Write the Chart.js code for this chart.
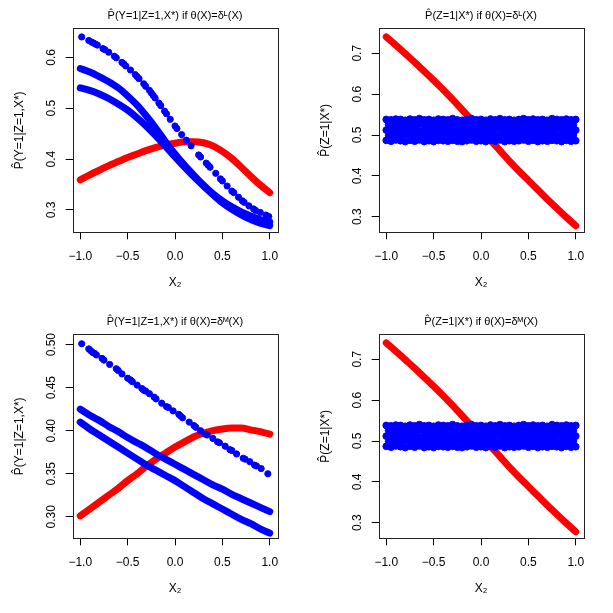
<!DOCTYPE html>
<html>
<head>
<meta charset="utf-8">
<script src="https://cdn.jsdelivr.net/npm/chart.js@4/dist/chart.umd.min.js"></script>
<style>
  body { margin: 0; background: #fff; }
  #wrap { position: relative; width: 613px; height: 613px; }
  canvas { position: absolute; }
</style>
</head>
<body>
<div id="wrap">
  <canvas id="c1" width="307" height="307" style="left:0;top:0"></canvas>
  <canvas id="c2" width="307" height="307" style="left:306px;top:0"></canvas>
  <canvas id="c3" width="307" height="307" style="left:0;top:306px"></canvas>
  <canvas id="c4" width="307" height="307" style="left:306px;top:306px"></canvas>
</div>
<script>
// x positions the smooth curves were read at
const gridX = [-1, -0.9, -0.8, -0.7, -0.6, -0.5, -0.4, -0.3, -0.2, -0.1, 0, 0.1, 0.2, 0.3, 0.4, 0.5, 0.6, 0.7, 0.8, 0.9, 1];
const xTicks = [-1, -0.5, 0, 0.5, 1];

// top left: delta L, P(Y=1|Z=1,X*)
const p1Red = [0.359, 0.369, 0.378, 0.387, 0.395, 0.403, 0.410, 0.417, 0.423, 0.428, 0.431, 0.434, 0.434, 0.432, 0.426, 0.415, 0.401, 0.384, 0.366, 0.349, 0.334];
const p1BlueA = [0.578, 0.571, 0.562, 0.552, 0.540, 0.524, 0.506, 0.484, 0.460, 0.434, 0.410, 0.388, 0.368, 0.349, 0.332, 0.318, 0.306, 0.296, 0.288, 0.281, 0.276];
const p1BlueB = [0.540, 0.535, 0.528, 0.519, 0.508, 0.496, 0.481, 0.464, 0.445, 0.425, 0.404, 0.384, 0.365, 0.347, 0.330, 0.314, 0.301, 0.290, 0.281, 0.274, 0.269];
const p1DotX = [-0.985, -0.91, -0.88, -0.86, -0.84, -0.82, -0.76, -0.74, -0.70, -0.64, -0.62, -0.56, -0.54, -0.52, -0.47, -0.42, -0.40, -0.38, -0.33, -0.31, -0.27, -0.25, -0.23, -0.21, -0.17, -0.15, -0.11, -0.09, -0.05, 0.00, 0.02, 0.07, 0.12, 0.17, 0.25, 0.27, 0.33, 0.35, 0.37, 0.43, 0.48, 0.50, 0.55, 0.60, 0.62, 0.67, 0.71, 0.73, 0.78, 0.83, 0.85, 0.90, 0.96, 0.99];
const p1DotY = [0.640, 0.633, 0.630, 0.628, 0.626, 0.624, 0.617, 0.615, 0.610, 0.602, 0.599, 0.590, 0.587, 0.583, 0.575, 0.566, 0.562, 0.558, 0.548, 0.543, 0.535, 0.530, 0.525, 0.520, 0.510, 0.505, 0.494, 0.489, 0.478, 0.465, 0.460, 0.448, 0.437, 0.426, 0.408, 0.404, 0.392, 0.388, 0.384, 0.372, 0.361, 0.357, 0.347, 0.337, 0.334, 0.325, 0.318, 0.315, 0.308, 0.302, 0.299, 0.295, 0.290, 0.287];

// bottom left: delta M, P(Y=1|Z=1,X*)
const p3Red = [0.301, 0.309, 0.317, 0.325, 0.333, 0.342, 0.350, 0.359, 0.367, 0.374, 0.381, 0.387, 0.393, 0.397, 0.400, 0.402, 0.403, 0.403, 0.401, 0.399, 0.396];
const p3BlueA = [0.425, 0.418, 0.412, 0.405, 0.399, 0.392, 0.386, 0.380, 0.373, 0.367, 0.361, 0.355, 0.349, 0.343, 0.337, 0.332, 0.326, 0.321, 0.316, 0.311, 0.306];
const p3BlueB = [0.410, 0.402, 0.395, 0.388, 0.381, 0.374, 0.367, 0.360, 0.354, 0.348, 0.342, 0.335, 0.328, 0.321, 0.315, 0.309, 0.303, 0.297, 0.292, 0.286, 0.281];
const p3DotX = [-0.985, -0.91, -0.89, -0.87, -0.85, -0.83, -0.77, -0.75, -0.69, -0.62, -0.60, -0.56, -0.50, -0.47, -0.45, -0.40, -0.35, -0.33, -0.31, -0.27, -0.22, -0.20, -0.14, -0.09, -0.07, -0.02, 0.04, 0.06, 0.08, 0.15, 0.20, 0.22, 0.27, 0.32, 0.34, 0.40, 0.45, 0.47, 0.53, 0.58, 0.60, 0.65, 0.72, 0.74, 0.79, 0.84, 0.86, 0.91, 0.98];
const p3DotY = [0.501, 0.495, 0.493, 0.491, 0.490, 0.488, 0.484, 0.482, 0.477, 0.472, 0.470, 0.466, 0.461, 0.459, 0.457, 0.453, 0.449, 0.447, 0.446, 0.443, 0.439, 0.437, 0.432, 0.428, 0.427, 0.423, 0.419, 0.417, 0.415, 0.410, 0.406, 0.404, 0.400, 0.396, 0.395, 0.391, 0.387, 0.386, 0.382, 0.378, 0.377, 0.373, 0.368, 0.367, 0.364, 0.360, 0.359, 0.356, 0.350];

// right column: P(Z=1|X*), same in both rows
const zRed = [0.740, 0.720, 0.699, 0.678, 0.656, 0.634, 0.611, 0.587, 0.562, 0.537, 0.512, 0.487, 0.462, 0.436, 0.412, 0.389, 0.366, 0.343, 0.321, 0.299, 0.278];
const bandX = [-1, -0.95, -0.9, -0.85, -0.8, -0.75, -0.7, -0.65, -0.6, -0.55, -0.5, -0.45, -0.4, -0.35, -0.3, -0.25, -0.2, -0.15, -0.1, -0.05, 0, 0.05, 0.1, 0.15, 0.2, 0.25, 0.3, 0.35, 0.4, 0.45, 0.5, 0.55, 0.6, 0.65, 0.7, 0.75, 0.8, 0.85, 0.9, 0.95, 1];
const bandXs = [-0.975, -0.925, -0.875, -0.825, -0.775, -0.725, -0.675, -0.625, -0.575, -0.525, -0.475, -0.425, -0.375, -0.325, -0.275, -0.225, -0.175, -0.125, -0.075, -0.025, 0.025, 0.075, 0.125, 0.175, 0.225, 0.275, 0.325, 0.375, 0.425, 0.475, 0.525, 0.575, 0.625, 0.675, 0.725, 0.775, 0.825, 0.875, 0.925, 0.975];
const bandRow1 = [0.487, 0.485, 0.488, 0.486, 0.484, 0.487, 0.485, 0.488, 0.484, 0.486, 0.484, 0.487, 0.486, 0.485, 0.487, 0.485, 0.484, 0.486, 0.488, 0.485, 0.486, 0.484, 0.487, 0.485, 0.488, 0.484, 0.486, 0.485, 0.486, 0.488, 0.485, 0.487, 0.484, 0.486, 0.485, 0.487, 0.486, 0.484, 0.487, 0.485, 0.486];
const bandRow2 = [0.498, 0.500, 0.497, 0.499, 0.501, 0.498, 0.500, 0.497, 0.499, 0.501, 0.497, 0.499, 0.501, 0.498, 0.497, 0.500, 0.499, 0.501, 0.497, 0.499, 0.498, 0.501, 0.499, 0.497, 0.500, 0.498, 0.501, 0.497, 0.499, 0.498, 0.501, 0.499, 0.497, 0.500, 0.498, 0.501, 0.497, 0.499, 0.498, 0.500];
const bandRow3 = [0.512, 0.513, 0.511, 0.512, 0.514, 0.511, 0.513, 0.510, 0.512, 0.514, 0.511, 0.512, 0.514, 0.512, 0.510, 0.513, 0.512, 0.514, 0.511, 0.512, 0.512, 0.514, 0.511, 0.512, 0.514, 0.511, 0.512, 0.514, 0.510, 0.512, 0.512, 0.514, 0.511, 0.513, 0.511, 0.512, 0.514, 0.512, 0.512, 0.511, 0.512];
const bandRow4 = [0.526, 0.524, 0.527, 0.525, 0.523, 0.526, 0.525, 0.527, 0.524, 0.526, 0.523, 0.526, 0.525, 0.524, 0.527, 0.525, 0.523, 0.526, 0.527, 0.524, 0.525, 0.523, 0.526, 0.525, 0.527, 0.524, 0.526, 0.523, 0.525, 0.527, 0.524, 0.526, 0.524, 0.526, 0.523, 0.527, 0.525, 0.524, 0.526, 0.525];
const bandRow5 = [0.538, 0.537, 0.539, 0.538, 0.536, 0.539, 0.537, 0.540, 0.537, 0.538, 0.536, 0.539, 0.538, 0.537, 0.540, 0.537, 0.536, 0.538, 0.540, 0.537, 0.538, 0.536, 0.539, 0.537, 0.540, 0.537, 0.538, 0.536, 0.538, 0.540, 0.537, 0.539, 0.537, 0.538, 0.536, 0.540, 0.538, 0.537, 0.539, 0.537, 0.538];

const RED = '#ff0000', BLUE = '#0000ff';
Chart.defaults.font.family = '"Liberation Sans", Arial, Helvetica, sans-serif';
Chart.defaults.color = '#000';

const pts = (xs, ys) => xs.map((x, i) => ({ x: x, y: ys[i] }));
const fmt = (v, d) => (v < 0 ? '\u2212' : '') + Math.abs(v).toFixed(d);

function curve(ys, color) {
  return { data: pts(gridX, ys), showLine: true, borderColor: color, borderWidth: 7,
    borderCapStyle: 'round', borderJoinStyle: 'round', pointRadius: 0,
    tension: 0.4, cubicInterpolationMode: 'monotone' };
}
function dots(xs, ys, color, r) {
  return { data: pts(xs, ys), showLine: false, pointRadius: r || 3.1, pointBorderWidth: 1,
    pointBackgroundColor: color, pointBorderColor: color, backgroundColor: color, borderColor: color };
}

// R-style box round the plot region
const boxPlugin = {
  id: 'box',
  afterDraw(chart) {
    const a = chart.chartArea, c = chart.ctx;
    c.save();
    c.strokeStyle = '#222';
    c.lineWidth = 1;
    c.strokeRect(Math.round(a.left) + 0.5, Math.round(a.top) + 0.5,
      Math.round(a.right - a.left), Math.round(a.bottom - a.top));
    c.restore();
  }
};

function panel(id, title, yLabel, yTicks, yMin, yMax, yDigits, labelPad, datasets) {
  new Chart(document.getElementById(id), {
    type: 'scatter',
    data: { datasets: datasets },
    options: {
      responsive: false,
      animation: false,
      devicePixelRatio: 1,
      layout: { padding: { left: 0, right: 29.7, top: 0, bottom: 0 } },
      plugins: {
        legend: { display: false },
        tooltip: { enabled: false },
        title: {
          display: true, text: title, fullSize: false, color: '#000',
          font: { size: 11, weight: 'normal' }, padding: { top: 9.5, bottom: 5.6 }
        }
      },
      scales: {
        x: {
          type: 'linear', min: -1.08, max: 1.08,
          afterBuildTicks: s => { s.ticks = xTicks.map(v => ({ value: v })); },
          afterFit: s => { s.height = 74.7; },
          grid: { drawOnChartArea: false, tickLength: 7, color: '#000' },
          border: { display: false },
          ticks: { autoSkip: false, maxRotation: 0, padding: 10, font: { size: 12 },
            callback: v => fmt(v, 1) },
          title: { display: true, text: 'X\u2082', font: { size: 12 }, padding: { top: 0, bottom: 16.8 } }
        },
        y: {
          type: 'linear', min: yMin, max: yMax,
          afterBuildTicks: s => { s.ticks = yTicks.map(v => ({ value: v })); },
          afterFit: s => { s.width = 72.7; },
          grid: { drawOnChartArea: false, tickLength: 7, color: '#000' },
          border: { display: false },
          ticks: { autoSkip: false, minRotation: 90, maxRotation: 90, crossAlign: 'center',
            padding: labelPad, font: { size: 12 }, callback: v => fmt(v, yDigits) },
          title: { display: true, text: yLabel, font: { size: 12 }, padding: { top: 12.8, bottom: 0 } }
        }
      }
    },
    plugins: [boxPlugin]
  });
}

const yLabTop = 'P\u0302(Y=1|Z=1,X*)';
const yLabZ = 'P\u0302(Z=1|X*)';

function bandSets() {
  return [
    dots(bandX, bandRow1, BLUE, 3.4),
    dots(bandXs, bandRow2, BLUE, 3.4),
    dots(bandX, bandRow3, BLUE, 3.4),
    dots(bandXs, bandRow4, BLUE, 3.4),
    dots(bandX, bandRow5, BLUE, 3.4)
  ];
}

panel('c1', 'P\u0302(Y=1|Z=1,X*) if \u03b8(X)=\u03b4\u1d38(X)', yLabTop,
  [0.3, 0.4, 0.5, 0.6], 0.256, 0.657, 1, 5.6, [
    dots(p1DotX, p1DotY, BLUE),
    curve(p1BlueA, BLUE),
    curve(p1BlueB, BLUE),
    curve(p1Red, RED)
  ]);

panel('c2', 'P\u0302(Z=1|X*) if \u03b8(X)=\u03b4\u1d38(X)', yLabZ,
  [0.3, 0.4, 0.5, 0.6, 0.7], 0.262, 0.761, 1, 5.6,
  bandSets().concat([curve(zRed, RED)]));

panel('c3', 'P\u0302(Y=1|Z=1,X*) if \u03b8(X)=\u03b4\u1d39(X)', yLabTop,
  [0.30, 0.35, 0.40, 0.45, 0.50], 0.275, 0.512, 2, 2.3, [
    dots(p3DotX, p3DotY, BLUE),
    curve(p3BlueA, BLUE),
    curve(p3BlueB, BLUE),
    curve(p3Red, RED)
  ]);

panel('c4', 'P\u0302(Z=1|X*) if \u03b8(X)=\u03b4\u1d39(X)', yLabZ,
  [0.3, 0.4, 0.5, 0.6, 0.7], 0.262, 0.761, 1, 5.6,
  bandSets().concat([curve(zRed, RED)]));
</script>
</body>
</html>
